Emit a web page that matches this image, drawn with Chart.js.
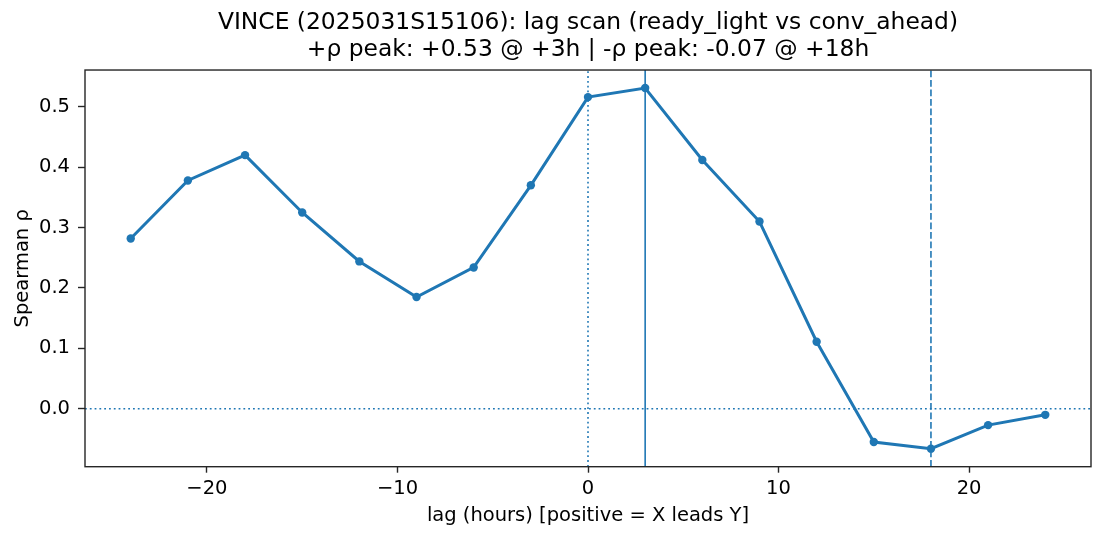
<!DOCTYPE html>
<html>
<head>
<meta charset="utf-8">
<script src="https://cdn.jsdelivr.net/npm/chart.js@4"></script>
<style>body{margin:0;background:#fff}</style>
</head>
<body>
<canvas id="lagChart" width="1105" height="540"></canvas>
<script>
// lag scan values
var lags = [-24, -21, -18, -15, -12, -9, -6, -3, 0, 3, 6, 9, 12, 15, 18, 21, 24];
var rho = [0.282, 0.378, 0.420, 0.325, 0.244, 0.185, 0.234, 0.370, 0.516, 0.531, 0.412, 0.310, 0.111, -0.055, -0.066, -0.027, -0.010];
var xTicks = [-20, -10, 0, 10, 20];
var yTicks = [0.0, 0.1, 0.2, 0.3, 0.4, 0.5];
var zeroLag = 0;
var posPeakLag = 3;
var negPeakLag = 18;
var titleLines = [
	'VINCE (2025031S15106): lag scan (ready_light vs conv_ahead)',
	'+\u03c1 peak: +0.53 @ +3h | -\u03c1 peak: -0.07 @ +18h'
];

var blue = '#1f77b4';
var font = "'DejaVu Sans', sans-serif";

// matplotlib style 5% margins
var xMin = Math.min.apply(null, lags), xMax = Math.max.apply(null, lags);
var yMin = Math.min.apply(null, rho), yMax = Math.max.apply(null, rho);
var xPad = (xMax - xMin) * 0.05, yPad = (yMax - yMin) * 0.05;
xMin -= xPad; xMax += xPad; yMin -= yPad; yMax += yPad;

function vline(x, dash, w) {
	return {
		data: [{x: x, y: yMin}, {x: x, y: yMax}],
		borderColor: blue, borderWidth: w, borderDash: dash,
		pointRadius: 0, fill: false
	};
}

var frame = {
	id: 'frame',
	afterDraw: function (c) {
		var a = c.chartArea, ctx = c.ctx;
		ctx.save();
		ctx.strokeStyle = '#262626';
		ctx.lineWidth = 1.4;
		ctx.strokeRect(a.left, a.top, a.right - a.left, a.bottom - a.top);
		ctx.restore();
	}
};

var ctx = document.getElementById('lagChart').getContext('2d');
var lagChart = new Chart(ctx, {
	type: 'line',
	data: {
		datasets: [{
			data: lags.map(function (l, i) { return {x: l, y: rho[i]}; }),
			borderColor: blue, backgroundColor: blue,
			borderWidth: 3, pointRadius: 4.2, pointHoverRadius: 4.2,
			pointBorderWidth: 0, fill: false, tension: 0
		},
		vline(zeroLag, [1.8, 3], 1.6),
		vline(posPeakLag, [], 1.6),
		vline(negPeakLag, [6.6, 2.9], 1.6),
		{
			data: [{x: xMin, y: 0}, {x: xMax, y: 0}],
			borderColor: blue, borderWidth: 1.6, borderDash: [1.8, 3],
			pointRadius: 0, fill: false
		}]
	},
	options: {
		responsive: false,
		animation: false,
		devicePixelRatio: 1,
		layout: {padding: {left: 0, right: 14, top: 0, bottom: 0}},
		plugins: {
			legend: {display: false},
			tooltip: {enabled: false},
			title: {
				display: true,
				text: titleLines,
				fullSize: false,
				color: '#000',
				font: {family: font, size: 23.4, weight: 'normal', lineHeight: 1.18},
				padding: {top: 9, bottom: 5.8}
			}
		},
		scales: {
			x: {
				type: 'linear',
				min: xMin, max: xMax,
				afterBuildTicks: function (s) { s.ticks = xTicks.map(function (v) { return {value: v}; }); },
				afterFit: function (s) { s.height = 540 - 466.7; },
				ticks: {
					color: '#000', padding: 5,
					font: {family: font, size: 19.5},
					callback: function (v) { return v < 0 ? '\u2212' + Math.abs(v) : String(v); }
				},
				grid: {drawOnChartArea: false, drawTicks: true, tickLength: 6, tickWidth: 1.4, tickColor: '#262626'},
				border: {display: false},
				title: {
					display: true, text: 'lag (hours) [positive = X leads Y]', color: '#000',
					font: {family: font, size: 19.5}, padding: {top: 0, bottom: 12.3}
				}
			},
			y: {
				type: 'linear',
				min: yMin, max: yMax,
				afterBuildTicks: function (s) { s.ticks = yTicks.map(function (v) { return {value: v}; }); },
				afterFit: function (s) { s.width = 85; },
				ticks: {
					color: '#000', padding: 8,
					font: {family: font, size: 19.5},
					callback: function (v) { return v.toFixed(1); }
				},
				grid: {drawOnChartArea: false, drawTicks: true, tickLength: 7, tickWidth: 1.4, tickColor: '#262626'},
				border: {display: false},
				title: {
					display: true, text: 'Spearman \u03c1', color: '#000',
					font: {family: font, size: 19.5}, padding: {top: 11.3, bottom: 0}
				}
			}
		}
	},
	plugins: [frame]
});
</script>
</body>
</html>
